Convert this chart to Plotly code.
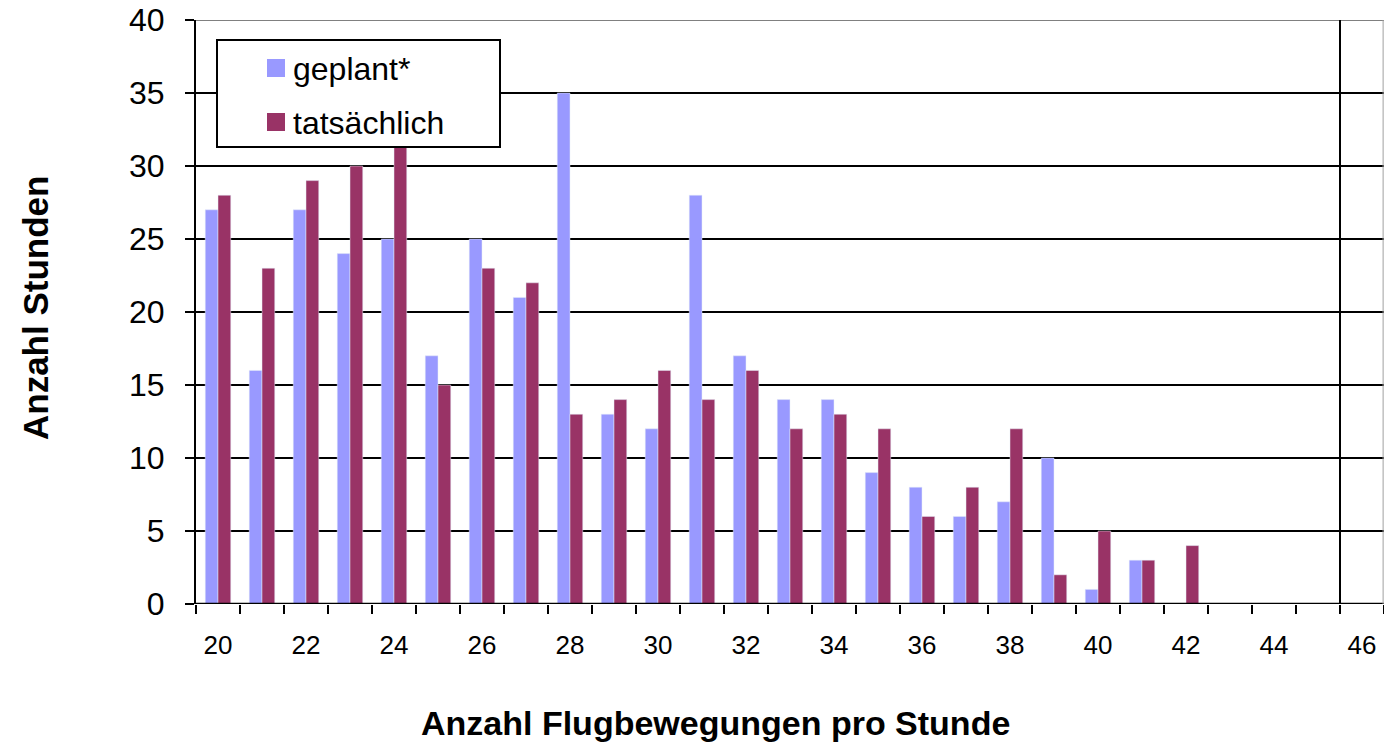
import plotly.graph_objects as go

categories = list(range(20, 47))
geplant = [27, 16, 27, 24, 25, 17, 25, 21, 35, 13, 12, 28, 17, 14, 14, 9, 8, 6, 7, 10, 1, 3, 0, 0, 0, 0, 0]
tatsaechlich = [28, 23, 29, 30, 32, 15, 23, 22, 13, 14, 16, 14, 16, 12, 13, 12, 6, 8, 12, 2, 5, 3, 4, 0, 0, 0, 0]
x_ticks = list(range(20, 47, 2))
y_ticks = list(range(0, 41, 5))
series_names = ["geplant*", "tatsächlich"]
series_colors = ["#9999FF", "#993366"]

FONT = "Liberation Sans, Arial, sans-serif"

# plot area in pixels
L, R, T, B = 196, 1384, 20, 604
W, H = R - L, B - T


def px(x):
    return (x - L) / W


def py(y):
    return (B - y) / H


fig = go.Figure()
fig.add_trace(go.Bar(x=categories, y=geplant, name=series_names[0], marker_color=series_colors[0],
                     showlegend=False))
fig.add_trace(go.Bar(x=categories, y=tatsaechlich, name=series_names[1], marker_color=series_colors[1],
                     showlegend=False))

fig.update_layout(
    width=1384, height=745,
    margin=dict(l=L, r=1384 - R, t=T, b=745 - B),
    paper_bgcolor="white", plot_bgcolor="white",
    barmode="group", bargap=0.42, bargroupgap=0,
    font=dict(family=FONT, size=26, color="black"),
)

fig.update_xaxes(
    range=[19.5, 46.5], tickvals=x_ticks, ticktext=[str(v) for v in x_ticks],
    ticks="", showgrid=False, zeroline=False,
    showline=False, ticklabelstandoff=23,
    tickfont=dict(size=26),
    minor=dict(tick0=19.5, dtick=1, ticks="outside", ticklen=9, tickwidth=2, tickcolor="black", showgrid=False),
)
fig.update_yaxes(
    range=[0, 40], tickvals=y_ticks, showgrid=True, gridcolor="black", gridwidth=2,
    zeroline=False, showline=True, linecolor="black", linewidth=2,
    ticks="outside", ticklen=9, tickwidth=2, tickcolor="black",
    ticklabelstandoff=14,
    tickfont=dict(size=32),
)

# baseline, top border, right boundary line
fig.add_shape(type="line", xref="x", yref="y", x0=19.5, x1=46.5, y0=0, y1=0,
              line=dict(color="black", width=2.5))
fig.add_shape(type="line", xref="x", yref="y", x0=19.5, x1=46.5, y0=40, y1=40,
              line=dict(color="#808080", width=2))
fig.add_shape(type="line", xref="x", yref="y", x0=45.5, x1=45.5, y0=0, y1=40,
              line=dict(color="black", width=2))
fig.add_shape(type="line", xref="x", yref="y", x0=46.48, x1=46.48, y0=0, y1=40,
              line=dict(color="#a0a0a0", width=1))

# legend box
fig.add_shape(type="rect", xref="paper", yref="paper", x0=px(217), x1=px(500), y0=py(147), y1=py(40),
              line=dict(color="black", width=2), fillcolor="white", layer="above")
for i, (name, color) in enumerate(zip(series_names, series_colors)):
    cy = 68 + 54 * i
    fig.add_shape(type="rect", xref="paper", yref="paper", x0=px(267), x1=px(285),
                  y0=py(cy + 9), y1=py(cy - 9), line=dict(width=0), fillcolor=color, layer="above")
    fig.add_annotation(text=name, xref="paper", yref="paper", x=px(291), y=py(cy + 1),
                       xanchor="left", yanchor="middle", showarrow=False,
                       font=dict(size=32, family=FONT))

fig.add_annotation(text="<b>Anzahl Flugbewegungen pro Stunde</b>", xref="paper", yref="paper",
                   x=px(715), y=py(723), xanchor="center", yanchor="middle",
                   showarrow=False, font=dict(size=34, family=FONT))
fig.add_annotation(text="<b>Anzahl Stunden</b>", xref="paper", yref="paper",
                   x=px(35), y=py(308), xanchor="center", yanchor="middle",
                   textangle=-90, showarrow=False, font=dict(size=35, family=FONT))

fig.write_html("out.html", config={"displayModeBar": False},
               post_script="document.body.style.margin='0';document.body.style.overflow='hidden';")
